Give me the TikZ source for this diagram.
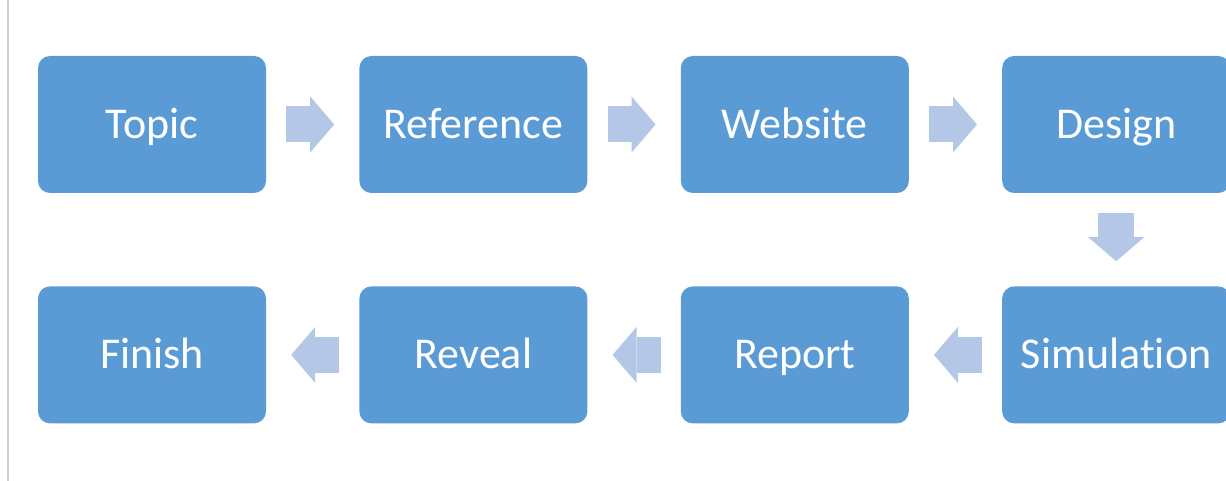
\documentclass[tikz,border=0pt]{standalone}
\usepackage{fontspec}
\setsansfont{Carlito}[Ligatures=NoCommon]
\usepackage{xcolor}
\usetikzlibrary{positioning, arrows.meta}
\definecolor{boxblue}{HTML}{5B9BD5}
\definecolor{arrowblue}{HTML}{B4C7E7}

\begin{document}
\begin{tikzpicture}[font=\sffamily,
    stage/.style={rectangle, rounded corners=12pt, fill=boxblue,
        text=white, minimum width=228pt, minimum height=137pt,
        inner sep=0pt, font=\sffamily\fontsize{44}{48}\selectfont,
        text height=28pt, text depth=0pt},
    flow/.style={line width=36pt, color=arrowblue,
        shorten <=20pt, shorten >=25pt,
        -{Triangle[length=24pt,width=56pt,line width=0pt]}}]
    \useasboundingbox (0,0) rectangle (1226pt,-481pt);
    % margin rule on the left
    \draw[line width=1.5pt, color=black!18] (8pt,0) -- (8pt,-481pt);
    % Add the stages
        \node[stage] (topic) at (152pt,-124.5pt) {Topic};
        \node[stage,
            right = 93pt of topic
            ] (reference) {Reference};
        \node[stage,
            right = 93pt of reference
            ] (website) {Website};
        \node[stage,
            right = 93pt of website
            ] (design) {Design};
        \node[stage,
            below = 93pt of design
            ] (simulation) {Simulation};
        \node[stage,
            left = 93pt of simulation
            ] (report) {Report};
        \node[stage,
            left = 93pt of report
            ] (reveal) {Reveal};
        \node[stage,
            left = 93pt of reveal
            ] (finish) {Finish};

       \draw[flow]
            (topic) edge (reference)
            (reference) edge (website)
            (website) edge (design)
            (design) edge (simulation)
            (simulation) edge (report)
            (report) edge (reveal)
            (reveal) edge (finish)
            ;
\end{tikzpicture}
\end{document}
